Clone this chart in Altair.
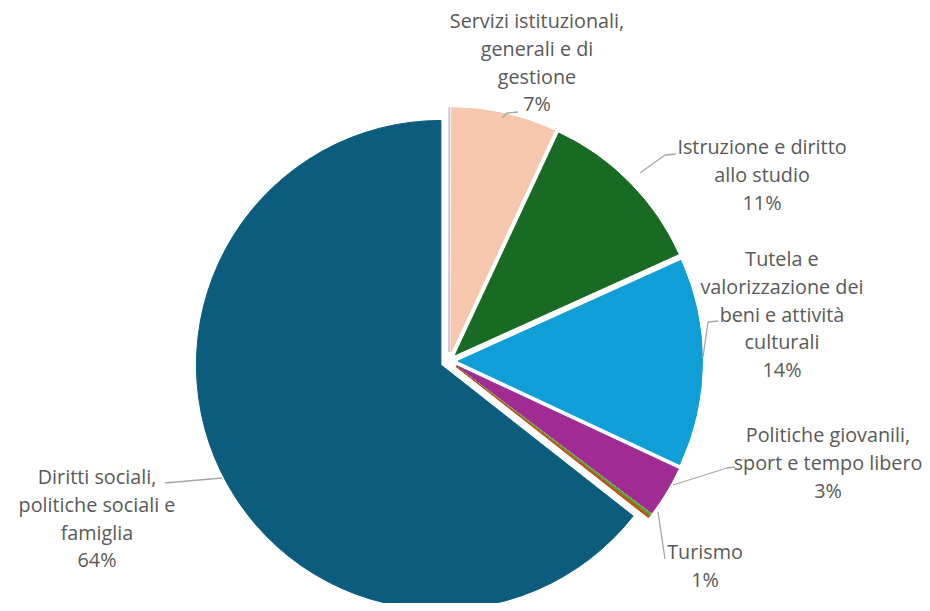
import math
import altair as alt
import pandas as pd

# ---- data ----
categorie = [
    "Altro (a)",
    "Servizi istituzionali, generali e di gestione",
    "Istruzione e diritto allo studio",
    "Tutela e valorizzazione dei beni e attività culturali",
    "Politiche giovanili, sport e tempo libero",
    "Turismo",
    "Altro (b)",
    "Diritti sociali, politiche sociali e famiglia",
]
valori = [0.05, 6.9, 11.3, 13.7, 3.35, 0.17, 0.13, 64.4]
etichette_pct = ["", "7%", "11%", "14%", "3%", "1%", "", "64%"]
righe_etichetta = [
    [],
    ["Servizi istituzionali,", "generali e di", "gestione"],
    ["Istruzione e diritto", "allo studio"],
    ["Tutela e", "valorizzazione dei", "beni e attività", "culturali"],
    ["Politiche giovanili,", "sport e tempo libero"],
    ["Turismo"],
    [],
    ["Diritti sociali,", "politiche sociali e", "famiglia"],
]

# ---- styles / layout ----
colori = ["#C9B3D9", "#F6C6AD", "#196B24", "#0F9ED5", "#A02B93", "#4EA72E", "#C04F15", "#0C5C7E"]
OFF = 8  # page margin
CX, CY = 449 - OFF, 361 - OFF   # pie centre (chart coords)
R = 244.5
D = 9  # explosion distance
FONT = "Open Sans"
FS = 19.8
TXT = "#595959"
LEAD = "#A6A6A6"

# first-line centre of each label block (page coords)
pos_etichette = {
    1: (537, 22),
    2: (762, 148),
    3: (782, 260),
    4: (828, 436),
    5: (705, 553),
    7: (97, 478),
}
# leader polylines (page coords)
guide = {
    1: [(518, 112), (507, 113), (502, 118)],
    2: [(676, 154), (665, 155), (640, 173)],
    3: [(718, 321), (708, 322), (703, 357)],
    4: [(735, 467), (727, 468), (673, 485)],
    5: [(658, 512), (665, 559)],
    7: [(165, 483), (222, 478)],
}

df = pd.DataFrame({"categoria": categorie, "valore": valori, "ordine": list(range(len(categorie)))})

base = (
    alt.Chart(df)
    .transform_joinaggregate(totale="sum(valore)")
    .transform_window(cumulata="sum(valore)", sort=[alt.SortField("ordine")], frame=[None, 0])
    .transform_calculate(t1="datum.cumulata / datum.totale")
    .transform_calculate(t0="(datum.cumulata - datum.valore) / datum.totale")
    .transform_calculate(mid="PI * (datum.t0 + datum.t1)")
    .transform_calculate(cx=f"{CX} + {D} * sin(datum.mid)")
    .transform_calculate(cy=f"{CY} - {D} * cos(datum.mid)")
)

torta = base.mark_arc(outerRadius=R, innerRadius=0, strokeWidth=1).encode(
    theta=alt.Theta("t0:Q", scale=alt.Scale(domain=[0, 1], range=[0, 2 * math.pi])),
    theta2="t1:Q",
    x=alt.X("cx:Q", scale=None, axis=None),
    y=alt.Y("cy:Q", scale=None, axis=None),
    color=alt.Color("categoria:N", scale=alt.Scale(domain=categorie, range=colori), legend=None),
    stroke=alt.Stroke("categoria:N", scale=alt.Scale(domain=categorie, range=colori), legend=None),
)

layers = [torta]

vuoto = alt.Data(values=[{}])
for i, pts in guide.items():
    for (x1, y1), (x2, y2) in zip(pts[:-1], pts[1:]):
        layers.append(
            alt.Chart(vuoto).mark_rule(color=LEAD, strokeWidth=1.3).encode(
                x=alt.value(x1 - OFF), y=alt.value(y1 - OFF),
                x2=alt.value(x2 - OFF), y2=alt.value(y2 - OFF),
            )
        )

for i, (px, py) in pos_etichette.items():
    testo = "\n".join(righe_etichetta[i] + [etichette_pct[i]])
    layers.append(
        alt.Chart(pd.DataFrame({"testo": [testo]})).mark_text(
            font=FONT, fontSize=FS, color=TXT, lineBreak="\n", lineHeight=27.8,
            align="center", baseline="middle",
        ).encode(x=alt.value(px - OFF), y=alt.value(py - OFF), text="testo:N")
    )

chart = (
    alt.layer(*layers)
    .properties(width=914, height=595, padding=0, autosize=alt.AutoSizeParams(type="none"))
    .configure_view(stroke=None)
)

chart.save("out.html", embed_options={"renderer": "svg", "actions": False})
